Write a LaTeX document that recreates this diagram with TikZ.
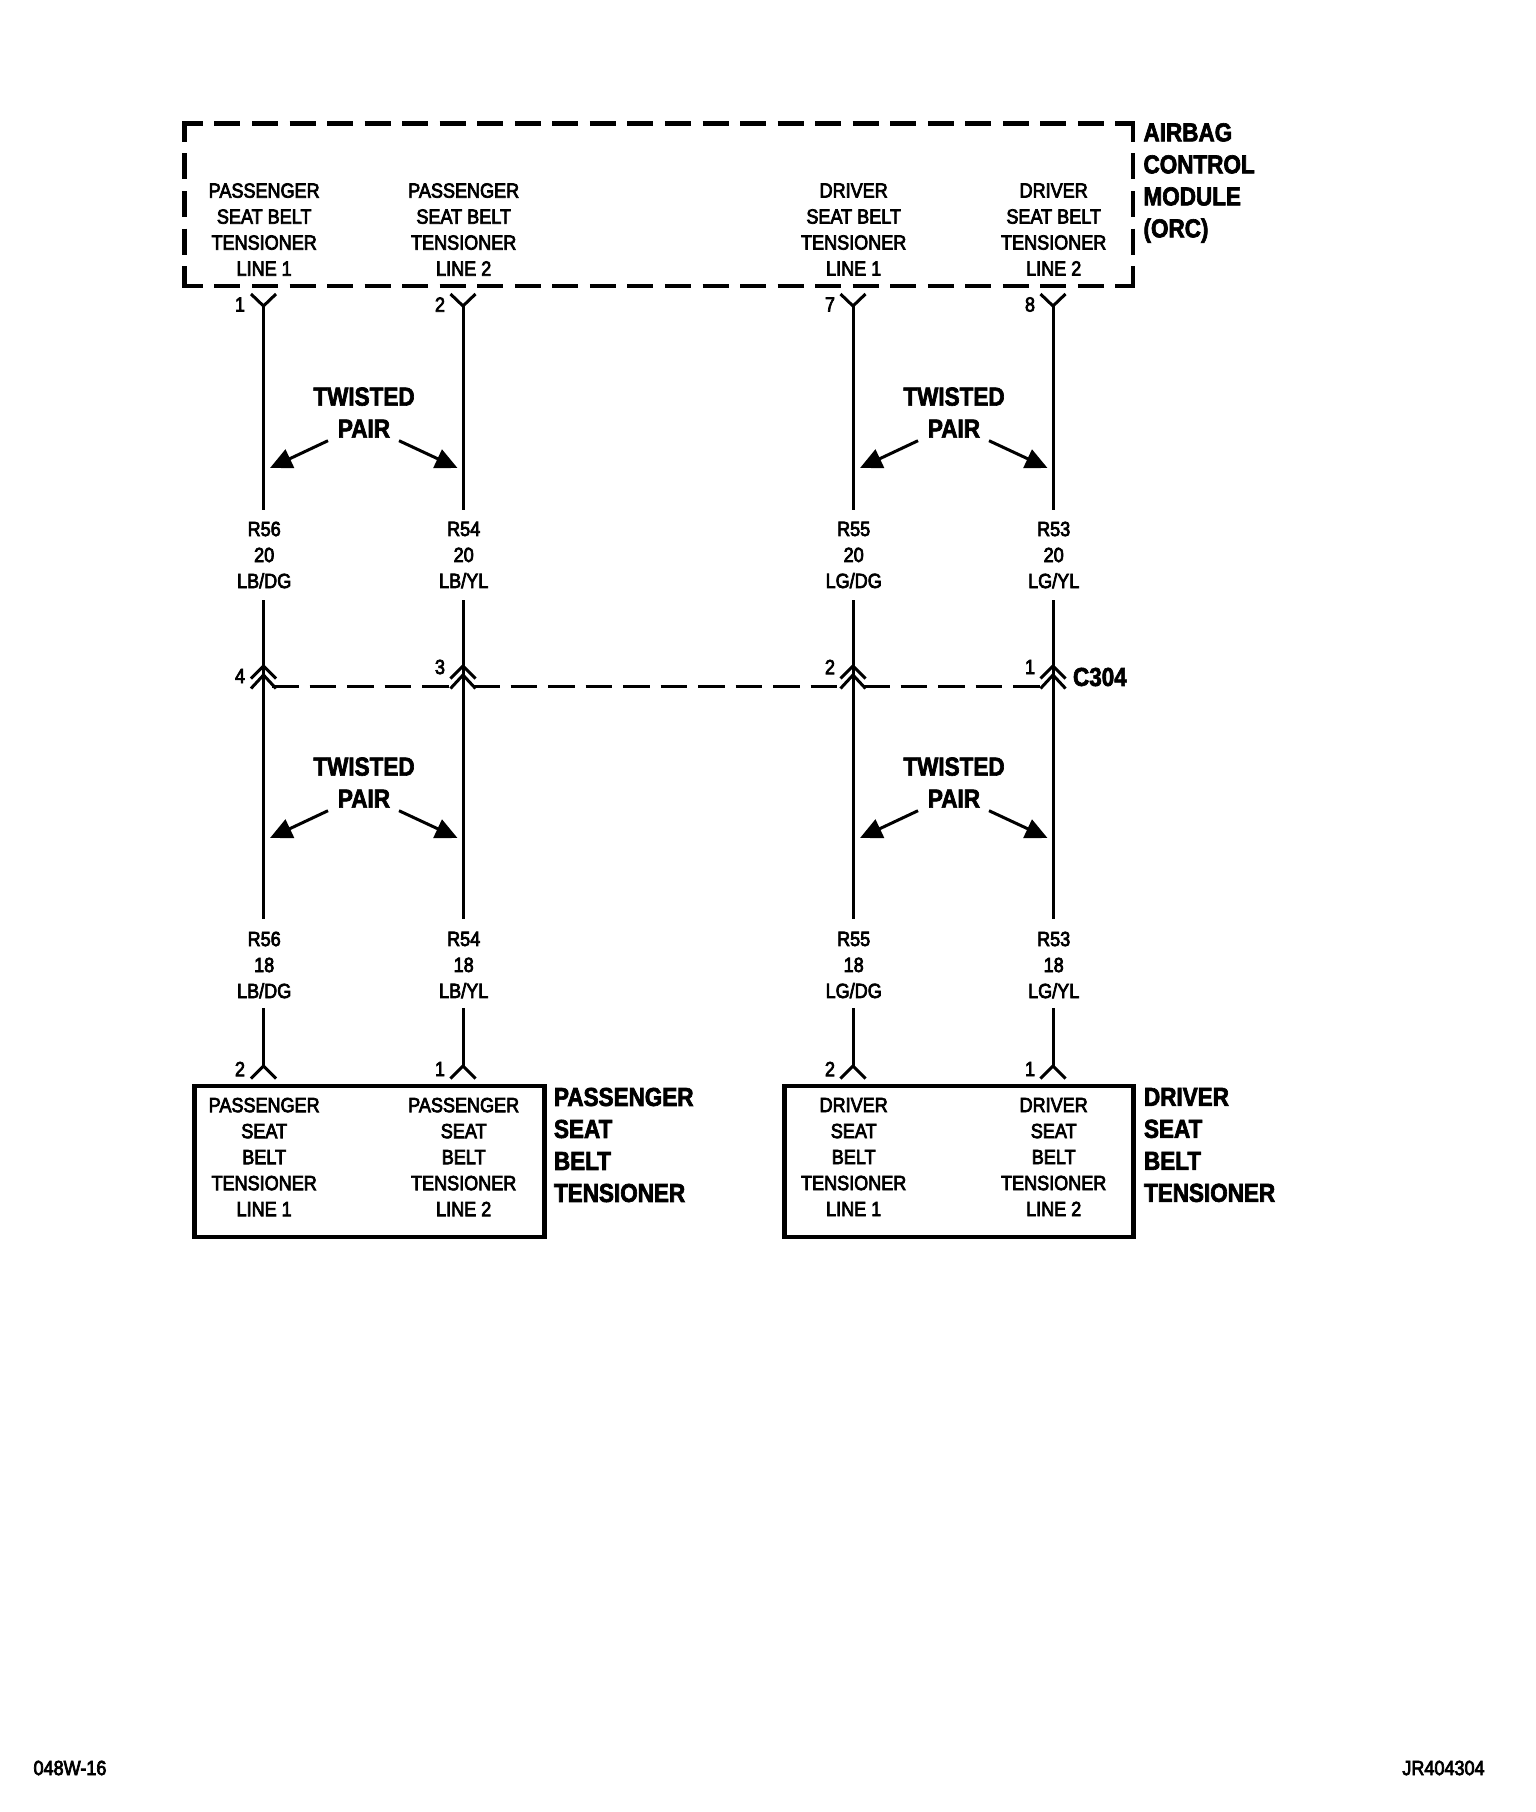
\documentclass[tikz,border=0pt]{standalone}
\usepackage{fontspec}
\usetikzlibrary{arrows.meta}
\newfontfamily\smallfont[FakeStretch=0.88,FakeBold=3.5]{Liberation Sans}
\newfontfamily\bigfont[FakeStretch=0.865,FakeBold=2.5]{Liberation Sans Bold}
\tikzset{
 lbl/.style={inner sep=0,outer sep=0,align=center,xshift=0.7pt,font=\fontsize{20.5}{26}\selectfont\smallfont},
 pinno/.style={inner sep=0,outer sep=0,font=\fontsize{20.5}{26}\selectfont\smallfont},
 big/.style={inner sep=0,outer sep=0,align=center,font=\fontsize{26}{32}\selectfont\bigfont},
 bigl/.style={inner sep=0,outer sep=0,align=left,anchor=west,font=\fontsize{26}{32}\selectfont\bigfont},
 wire/.style={line width=3pt},
 chev/.style={line width=3pt,miter limit=10},
 orcside/.style={line width=4.5pt,dash pattern=on 26pt off 11.54pt},
 conn/.style={line width=3pt,dash pattern=on 26.5pt off 11pt},
 box/.style={line width=4.5pt},
 tw/.style={line width=3pt,-{Triangle[length=22pt,width=20pt]},shorten >=0pt}
}
\begin{document}
\begin{tikzpicture}[x=1pt,y=-1pt]
\useasboundingbox (0,0) rectangle (1536,1812);
\fill[white] (0,0) rectangle (1536,1812);
% module box
\coordinate (tl) at (184.5,123.5); \coordinate (tr) at (1133,123.5);
\coordinate (bl) at (184.5,286);   \coordinate (br) at (1133,286);
\draw[orcside,dash phase=5.3pt] ([xshift=-2.25pt]tl) -- ([xshift=2.25pt]tr);
\draw[orcside,dash phase=5.3pt] ([xshift=-2.25pt]bl) -- ([xshift=2.25pt]br);
\draw[orcside,dash phase=5.3pt] ([yshift=2.25pt]tl) -- ([yshift=-2.25pt]bl);
\draw[orcside,dash phase=5.3pt] ([yshift=2.25pt]tr) -- ([yshift=-2.25pt]br);
\node[bigl] (orc) at (1143.5,183) {AIRBAG\\CONTROL\\MODULE\\(ORC)};
% wires
\foreach \n/\x/\rr/\cc/\am/\nm in {
 a/263.5/R56/LB\slash DG/PASSENGER/1,
 b/463/R54/LB\slash YL/PASSENGER/2,
 c/853/R55/LG\slash DG/DRIVER/1,
 d/1053/R53/LG\slash YL/DRIVER/2}{
  \node[lbl] (top\n) at (\x,229.5) {\am\\SEAT BELT\\TENSIONER\\LINE \nm};
  \node[lbl] (up\n) at (\x,555) {\rr\\20\\\cc};
  \node[lbl] (lo\n) at (\x,965) {\rr\\18\\\cc};
  \node[lbl] (dev\n) at (\x,1157) {\am\\SEAT\\BELT\\TENSIONER\\LINE \nm};
  \coordinate (ty\n) at (\x,306);
  \coordinate (c\n) at (\x,666);
  \coordinate (by\n) at (\x,1066);
  \draw[chev] ([shift={(-12.5,-12)}]ty\n) -- (ty\n) -- ([shift={(12.5,-12)}]ty\n);
  \draw[wire] (ty\n) -- (\x,510);
  \draw[wire] (\x,600) -- (c\n);
  \draw[chev] ([shift={(-12.5,12.5)}]c\n) -- (c\n) -- ([shift={(12.5,12.5)}]c\n);
  \draw[chev] ([shift={(-12.5,22.5)}]c\n) -- ([shift={(0,9)}]c\n) -- ([shift={(12.5,22.5)}]c\n);
  \draw[wire] (c\n) -- (\x,919);
  \draw[wire] (\x,1008) -- (by\n);
  \draw[chev] ([shift={(-12.5,12.5)}]by\n) -- (by\n) -- ([shift={(12.5,12.5)}]by\n);
}
% pin numbers
\node[pinno] (p1) at (240,304.5) {1};
\node[pinno] (p2) at (440,304.5) {2};
\node[pinno] (p7) at (830,304.5) {7};
\node[pinno] (p8) at (1030,304.5) {8};
\node[pinno] (q4) at (240,676) {4};
\node[pinno] (q3) at (440,667) {3};
\node[pinno] (q2) at (830,667) {2};
\node[pinno] (q1) at (1030,667) {1};
\node[pinno] (r2) at (240,1069) {2};
\node[pinno] (r1) at (440,1069) {1};
\node[pinno] (s2) at (830,1069) {2};
\node[pinno] (s1) at (1030,1069) {1};
\node[bigl] (c304) at (1073,677) {C304};
% connector dashed
\coordinate (d1) at (272,686.3); \coordinate (d2) at (453,686.3);
\coordinate (d3) at (473,686.3); \coordinate (d4) at (843,686.3);
\coordinate (d5) at (863,686.3); \coordinate (d6) at (1043,686.3);
\draw[conn] (d1) -- (d2);
\draw[conn] (d3) -- (d4);
\draw[conn] (d5) -- (d6);
% twisted pairs
\foreach \k/\dx/\dy in {1/0/0,2/590/0,3/0/370,4/590/370}{
 \node[big] (tp\k) at (364+\dx,412.5+\dy) {TWISTED\\PAIR};
 \coordinate (la\k) at (328+\dx,440.7+\dy); \coordinate (lb\k) at (270+\dx,468+\dy);
 \coordinate (ra\k) at (399+\dx,440.7+\dy); \coordinate (rb\k) at (457.5+\dx,468+\dy);
 \draw[tw] (la\k) -- (lb\k);
 \draw[tw] (ra\k) -- (rb\k);
}
% device boxes
\draw[box] (194.5,1086) rectangle (544.5,1237);
\draw[box] (784.5,1086) rectangle (1133.5,1237);
\node[bigl] (pdev) at (554,1145) {PASSENGER\\SEAT\\BELT\\TENSIONER};
\node[bigl] (ddev) at (1144,1145) {DRIVER\\SEAT\\BELT\\TENSIONER};
% corner texts
\node[pinno] (fl) at (70,1768) {048W-16};
\node[pinno] (fr) at (1443.5,1768) {JR404304};
\end{tikzpicture}
\end{document}
